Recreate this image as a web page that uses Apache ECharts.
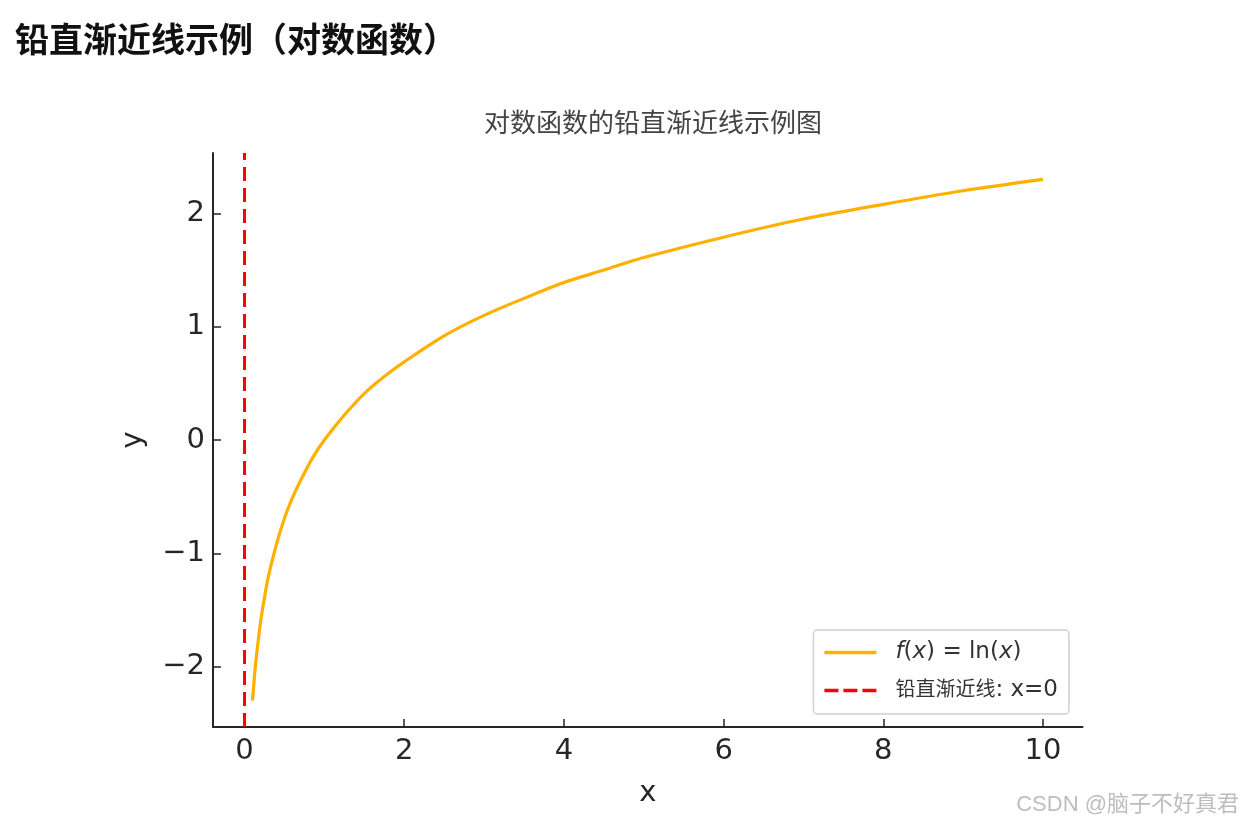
<!DOCTYPE html>
<html>
<head>
<meta charset="utf-8">
<script src="https://cdn.jsdelivr.net/npm/echarts@6/dist/echarts.min.js"></script>
<style>
html,body{margin:0;padding:0;background:#fff;}
#chart{width:1250px;height:825px;}
</style>
</head>
<body>
<div id="chart"></div>
<script>
// ---- data ----
var curveX = [0.1, 0.12, 0.15, 0.2, 0.25, 0.3, 0.4, 0.5, 0.6, 0.7, 0.85, 1.0, 1.25, 1.5, 1.75, 2.0, 2.5, 3.0, 3.5, 4.0, 4.5, 5.0, 6.0, 7.0, 8.0, 9.0, 10.0];
var curveY = [-2.30, -2.12, -1.90, -1.61, -1.39, -1.20, -0.92, -0.69, -0.51, -0.36, -0.16, 0.00, 0.22, 0.41, 0.56, 0.69, 0.92, 1.10, 1.25, 1.39, 1.50, 1.61, 1.79, 1.95, 2.08, 2.20, 2.30];
var asymptoteX = 0;
var xTicks = [0, 2, 4, 6, 8, 10];
var yTicks = [-2, -1, 0, 1, 2];
var xRange = [-0.395, 10.495];
var yRange = [-2.533, 2.533];
var seriesNames = ['f(x) = ln(x)', '铅直渐近线: x=0'];
var pageHeading = '铅直渐近线示例（对数函数）';
var chartTitle = '对数函数的铅直渐近线示例图';
var watermark = 'CSDN @脑子不好真君';

var curveData = curveX.map(function (x, i) { return [x, curveY[i]]; });
var asymData = [[asymptoteX, yRange[0]], [asymptoteX, yRange[1]]];

var chart = echarts.init(document.getElementById('chart'), null, {renderer: 'canvas'});
var axisColor = '#262626';
var textColor = '#262626';
var font = 'DejaVu Sans, Noto Sans CJK SC, sans-serif';
var solidIcon = 'path://M0,0 L52,0 L52,3.4 L0,3.4 Z';
var dashIcon = 'path://M0,0 L14,0 L14,3.4 L0,3.4 Z M19,0 L33,0 L33,3.4 L19,3.4 Z M38,0 L52,0 L52,3.4 L38,3.4 Z';

chart.setOption({
  backgroundColor: '#ffffff',
  animation: false,
  title: [
    {
      text: pageHeading, left: 10, top: 17,
      textStyle: {fontSize: 34, fontWeight: 'bold', color: '#111', fontFamily: 'Noto Sans CJK SC, sans-serif'}
    },
    {
      text: chartTitle, left: 648, top: 104, textAlign: 'center',
      textStyle: {fontSize: 26, fontWeight: 'normal', color: '#444', fontFamily: 'Noto Sans CJK SC, sans-serif'}
    },
    {
      text: watermark, right: 6, top: 789,
      textStyle: {fontSize: 22, fontWeight: 'normal', color: '#bdbdbd', fontFamily: 'Liberation Sans, Noto Sans CJK SC, sans-serif'}
    }
  ],
  grid: {left: 213, top: 153, right: 167.5, bottom: 98, containLabel: false},
  legend: {
    orient: 'vertical',
    right: 181, bottom: 111,
    padding: [11, 11, 12, 11],
    itemGap: 14,
    itemWidth: 52,
    itemHeight: 24,
    backgroundColor: '#fff',
    borderColor: '#d0d0d0',
    borderWidth: 1.5,
    borderRadius: 4,
    data: [
      {name: seriesNames[0], icon: solidIcon},
      {name: seriesNames[1], icon: dashIcon}
    ],
    formatter: function (name) {
      if (name === seriesNames[0]) {
        return '{i|f}{n|(}{i|x}{n|) = ln(}{i|x}{n|)}';
      }
      var parts = name.split(':');
      return '{c|' + parts[0] + '}{n|:' + parts[1] + '}';
    },
    textStyle: {
      color: '#333',
      fontSize: 23,
      fontFamily: font,
      padding: [0, 0, 0, 14],
      rich: {
        i: {fontStyle: 'italic', fontSize: 23, color: '#333', fontFamily: font, verticalAlign: 'middle'},
        n: {fontSize: 23, color: '#333', fontFamily: font, verticalAlign: 'middle'},
        c: {fontSize: 20, color: '#333', fontFamily: 'Noto Sans CJK SC, sans-serif', verticalAlign: 'middle', padding: [0, 0, 5, 0]}
      }
    }
  },
  xAxis: {
    type: 'value',
    min: xRange[0], max: xRange[1],
    name: 'x',
    nameLocation: 'middle',
    nameGap: 52,
    nameTextStyle: {fontSize: 29, color: textColor, fontFamily: font},
    splitLine: {show: false},
    axisLine: {onZero: false, lineStyle: {color: axisColor, width: 2}},
    axisTick: {show: true, inside: true, length: 8, customValues: xTicks, lineStyle: {color: axisColor, width: 1.5}},
    axisLabel: {customValues: xTicks, fontSize: 29, color: textColor, fontFamily: font, margin: 10,
      formatter: function (v) { return String(v).replace('-', '\u2212'); }}
  },
  yAxis: {
    type: 'value',
    min: yRange[0], max: yRange[1],
    name: 'y',
    nameLocation: 'middle',
    nameGap: 65,
    nameRotate: 90,
    nameTextStyle: {fontSize: 29, color: textColor, fontFamily: font},
    splitLine: {show: false},
    axisLine: {onZero: false, lineStyle: {color: axisColor, width: 2}},
    axisTick: {show: true, inside: true, length: 8, customValues: yTicks, lineStyle: {color: axisColor, width: 1.5}},
    axisLabel: {customValues: yTicks, fontSize: 29, color: textColor, fontFamily: font, margin: 8,
      formatter: function (v) { return String(v).replace('-', '\u2212'); }}
  },
  series: [
    {
      name: seriesNames[0],
      type: 'line',
      data: curveData,
      smooth: 0.3,
      showSymbol: false,
      symbol: 'none',
      color: '#ffb000',
      lineStyle: {color: '#ffb000', width: 3.2},
      z: 2
    },
    {
      name: seriesNames[1],
      type: 'line',
      data: asymData,
      showSymbol: false,
      symbol: 'none',
      color: '#ff0000',
      lineStyle: {color: '#ff0000', width: 3, type: [14, 7]},
      z: 3
    }
  ]
});
</script>
</body>
</html>
